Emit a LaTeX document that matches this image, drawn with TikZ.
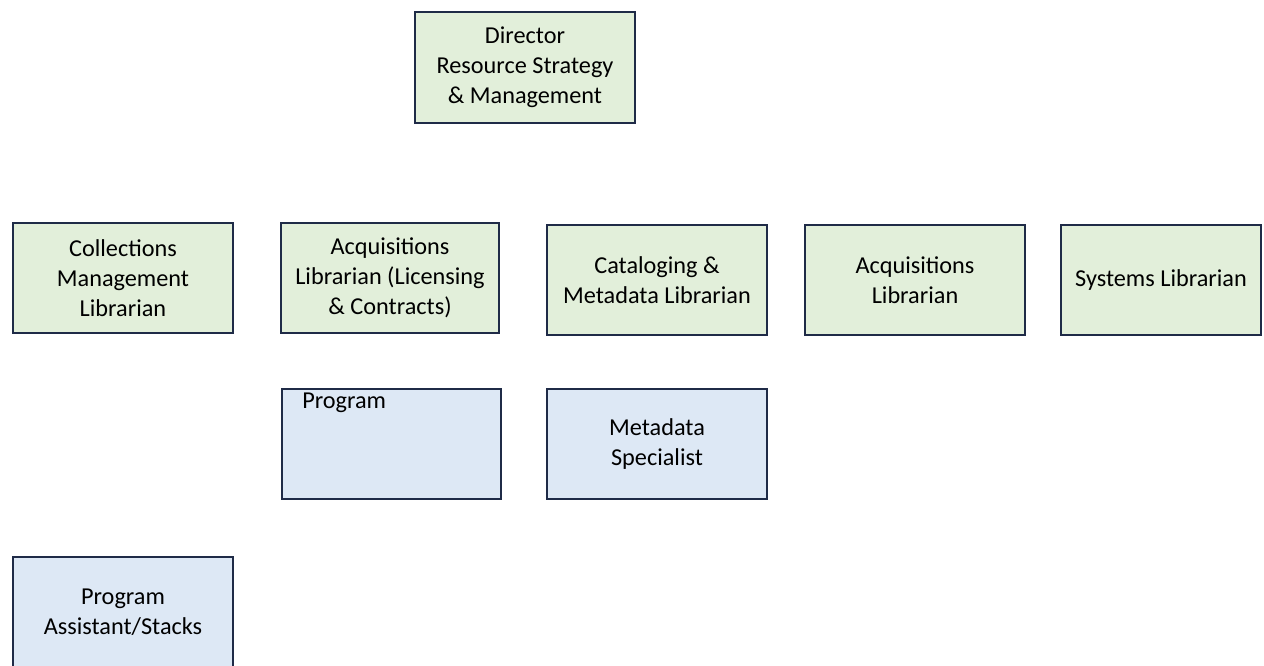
\documentclass[tikz,border=0pt]{standalone}
\usepackage{fontspec}
\setmainfont{Carlito}
\usetikzlibrary{positioning}
\definecolor{boxline}{HTML}{1F2B47}
\definecolor{greenfill}{HTML}{E2EFDA}
\definecolor{bluefill}{HTML}{DDE8F5}

\begin{document}
\begin{tikzpicture}[
    x=0.75pt, y=-0.75pt,
    role/.style = {draw=boxline, line width=1.5pt, minimum width=165pt, minimum height=82.5pt,
                   align=center, inner sep=0pt, font=\fontsize{18.2}{22.5}\selectfont},
    mgr/.style = {role, fill=greenfill},   % green: librarians
    staff/.style = {role, fill=bluefill}   % blue: support staff
  ]
    \useasboundingbox (0,0) rectangle (1264,666);

    \node[mgr, minimum height=83.25pt] (director) at (525,67.5) {Director\\Resource Strategy\\\& Management};

    % librarian row
    \node[mgr] (colls) at (123,278) {Collections\\Management\\Librarian};
    \node[mgr, minimum width=163.5pt] (acqlic) at (390,278) {Acquisitions\\Librarian (Licensing\\\& Contracts)};
    \node[mgr] (catalog) at (657,280) {Cataloging \&\\Metadata Librarian};
    \node[mgr] (acq) at (915,280) {Acquisitions\\Librarian};
    \node[mgr, minimum width=150pt] (systems) at (1161,280) {Systems Librarian};

    % staff
    \node[staff, minimum width=164.25pt,
          label={[name=progtext, anchor=base west, inner sep=0pt, xshift=15.75pt, yshift=-15.75pt,
                  font=\fontsize{18.2}{22.5}\selectfont]north west:Program}] (prog) at (391.5,444) {};
    \node[staff] (meta) at (657,444) {Metadata\\Specialist};
    \node[staff] (progasst) at (123,612) {Program\\Assistant/Stacks};
\end{tikzpicture}
\end{document}
